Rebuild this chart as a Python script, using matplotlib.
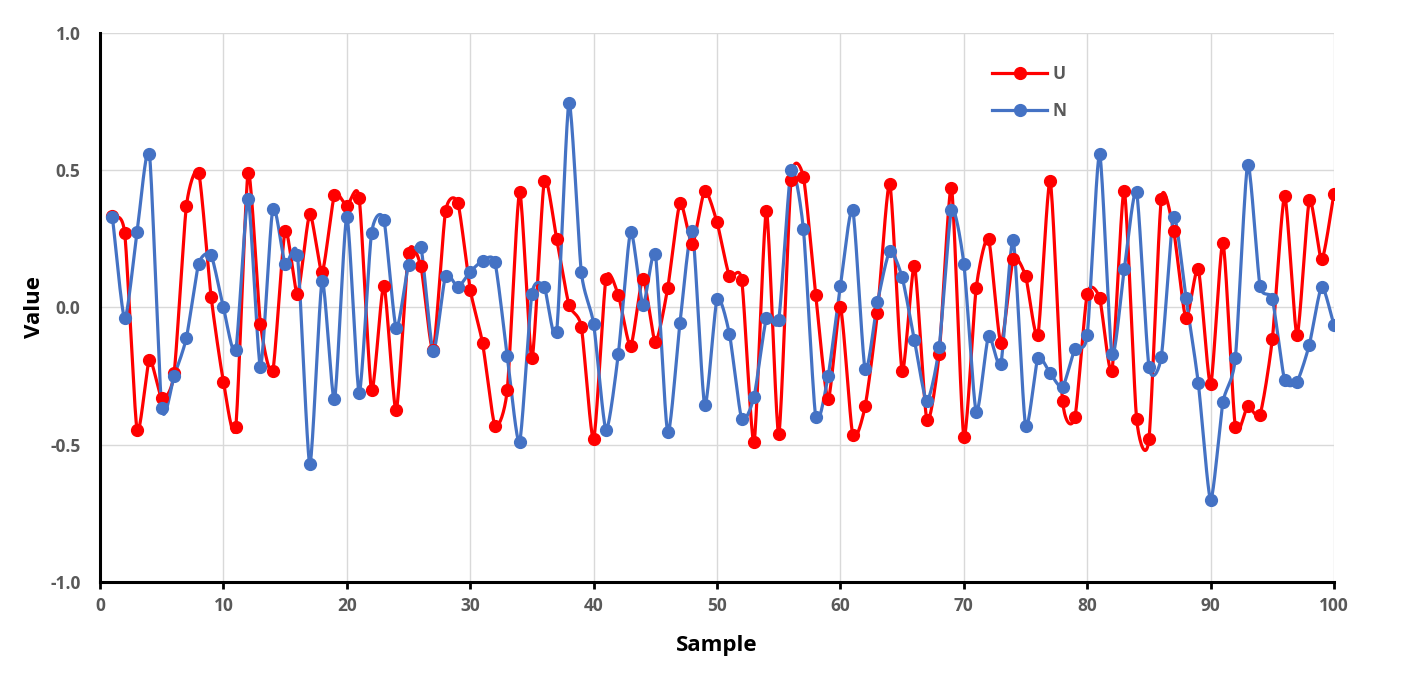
import numpy as np
import matplotlib.pyplot as plt

samples = list(range(1, 101))
u_vals = [0.335, 0.27, -0.445, -0.19, -0.33, -0.24, 0.37, 0.49, 0.04, -0.27,
          -0.435, 0.49, -0.06, -0.23, 0.28, 0.05, 0.34, 0.13, 0.41, 0.37,
          0.40, -0.30, 0.08, -0.375, 0.20, 0.15, -0.155, 0.35, 0.38, 0.065,
          -0.13, -0.43, -0.30, 0.42, -0.185, 0.46, 0.25, 0.01, -0.07, -0.48,
          0.105, 0.045, -0.14, 0.105, -0.125, 0.07, 0.38, 0.23, 0.425, 0.31,
          0.115, 0.10, -0.49, 0.35, -0.46, 0.465, 0.475, 0.045, -0.335, 0.0,
          -0.465, -0.36, -0.02, 0.45, -0.23, 0.15, -0.41, -0.17, 0.435, -0.47,
          0.07, 0.25, -0.13, 0.175, 0.115, -0.10, 0.46, -0.34, -0.40, 0.05,
          0.035, -0.23, 0.425, -0.405, -0.48, 0.395, 0.28, -0.04, 0.14, -0.28,
          0.235, -0.435, -0.36, -0.39, -0.115, 0.405, -0.10, 0.39, 0.175, 0.415]
n_vals = [0.33, -0.04, 0.275, 0.56, -0.365, -0.25, -0.11, 0.16, 0.19, 0.0,
          -0.155, 0.395, -0.215, 0.36, 0.16, 0.19, -0.57, 0.095, -0.335, 0.33,
          -0.31, 0.27, 0.32, -0.075, 0.155, 0.22, -0.16, 0.115, 0.075, 0.13,
          0.17, 0.165, -0.175, -0.49, 0.05, 0.075, -0.09, 0.745, 0.13, -0.06,
          -0.445, -0.17, 0.275, 0.01, 0.195, -0.455, -0.055, 0.28, -0.355, 0.03,
          -0.095, -0.405, -0.325, -0.04, -0.045, 0.50, 0.285, -0.40, -0.25, 0.08,
          0.355, -0.225, 0.02, 0.205, 0.11, -0.12, -0.34, -0.145, 0.355, 0.16,
          -0.38, -0.105, -0.205, 0.245, -0.43, -0.185, -0.24, -0.29, -0.15, -0.10,
          0.56, -0.17, 0.14, 0.42, -0.215, -0.18, 0.33, 0.035, -0.275, -0.70,
          -0.345, -0.185, 0.52, 0.08, 0.03, -0.265, -0.27, -0.135, 0.075, -0.065]

series = [("U", u_vals, "#FF0000"), ("N", n_vals, "#4472C4")]


def smooth(x, y, steps=20, k=0.65):
    # cardinal spline through the points, a bit tighter than catmull-rom
    x = np.asarray(x, float)
    y = np.asarray(y, float)
    t = np.linspace(0, 1, steps, endpoint=False)
    h00 = 2 * t ** 3 - 3 * t ** 2 + 1
    h10 = t ** 3 - 2 * t ** 2 + t
    h01 = -2 * t ** 3 + 3 * t ** 2
    h11 = t ** 3 - t ** 2
    mx = np.gradient(x) * k
    my = np.gradient(y) * k
    xs, ys = [], []
    for i in range(len(x) - 1):
        xs.extend(h00 * x[i] + h10 * mx[i] + h01 * x[i + 1] + h11 * mx[i + 1])
        ys.extend(h00 * y[i] + h10 * my[i] + h01 * y[i + 1] + h11 * my[i + 1])
    xs.append(x[-1])
    ys.append(y[-1])
    return xs, ys


plt.rcParams['font.family'] = ['Open Sans', 'DejaVu Sans']

fig = plt.figure(figsize=(14.01, 6.86), dpi=100)
ax = fig.add_axes([0.0714, 0.1516, 0.8808, 0.8003])

for name, vals, col in series:
    sx, sy = smooth(samples, vals)
    ax.plot(sx, sy, color=col, lw=2.3, zorder=3)
    ax.plot(samples, vals, 'o', color=col, ms=8.5, zorder=4)
    ax.plot([], [], '-o', color=col, lw=2.3, ms=8.5, label=name)

ax.set_xlim(0, 100)
ax.set_ylim(-1.0, 1.0)
ax.set_xticks(range(0, 101, 10))
ax.set_yticks([-1.0, -0.5, 0.0, 0.5, 1.0])
ax.set_yticklabels(['-1.0', '-0.5', '0.0', '0.5', '1.0'])
ax.grid(True, color='#D9D9D9', lw=1)
ax.set_axisbelow(True)

for s in ['top', 'right']:
    ax.spines[s].set_visible(False)
for s in ['left', 'bottom']:
    ax.spines[s].set_linewidth(2.2)
    ax.spines[s].set_color('black')

ax.tick_params(axis='x', length=5, width=2, colors='black', labelcolor='#595959',
               labelsize=12.5, pad=6)
ax.tick_params(axis='y', length=0, labelcolor='#595959', labelsize=12.5, pad=14)
for lab in ax.get_xticklabels() + ax.get_yticklabels():
    lab.set_fontweight('bold')

ax.set_xlabel('Sample', fontsize=16, fontweight='bold', labelpad=14)
ax.set_ylabel('Value', fontsize=16, fontweight='bold', labelpad=4)

leg = ax.legend(loc='upper left', bbox_to_anchor=(0.71, 0.97), frameon=False,
                fontsize=12.5, handlelength=3.2, labelspacing=1.1, handletextpad=0.3)
for t in leg.get_texts():
    t.set_color('#595959')
    t.set_fontweight('bold')

plt.savefig('out.png', dpi=100)
